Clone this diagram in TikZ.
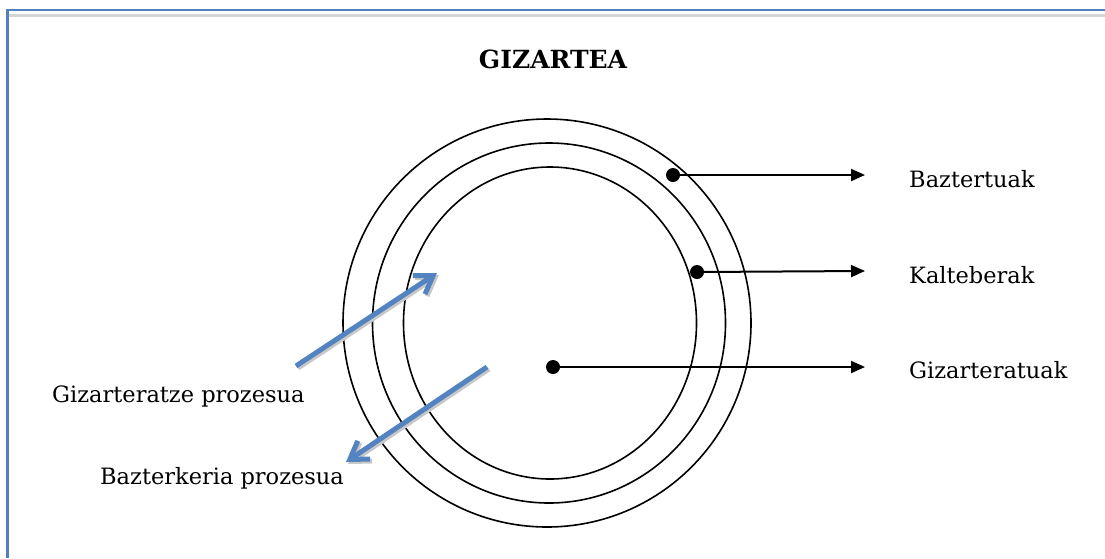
\documentclass[tikz,border=0pt]{standalone}
\usepackage{fontspec}
\setmainfont{DejaVu Serif}
\usetikzlibrary{arrows.meta,shapes.geometric}
\definecolor{frameblue}{HTML}{4F81BD}
\definecolor{rulegrey}{HTML}{D4D4D4}
\definecolor{flowblue}{HTML}{5383C0}
\definecolor{shadowgrey}{HTML}{C8C8C8}

\begin{document}
\begin{tikzpicture}[x=1pt,y=-1pt,font=\fontsize{22.5}{27}\selectfont,
  ring/.style={ellipse,draw,line width=1.6pt,inner sep=0pt},
  dot/.style={circle,fill,inner sep=0pt,minimum size=14pt},
  lbl/.style={anchor=base west,inner sep=0pt},
  conn/.style={-{Triangle[length=14pt,width=12pt]},line width=2pt},
  flow/.style={-{Straight Barb[length=17pt,width=22pt]},flowblue,line width=5pt},
  flowshadow/.style={flow,shadowgrey}]
\useasboundingbox (0,0) rectangle (1105,558);
% page frame
\draw[rulegrey,line width=2.5pt] (9,15.5) -- (1105,15.5);
\draw[frameblue,line width=2.5pt] (7.5,558) -- (7.5,10) -- (1105,10);
\node[font=\fontsize{25}{30}\selectfont\bfseries,anchor=base,inner sep=0pt] (title) at (553,68) {GIZARTEA};
% society rings
\node[ring,minimum width=408pt,minimum height=408pt] (outer) at (547,323) {};
\node[ring,minimum width=353pt,minimum height=360pt] (middle) at (549,323) {};
\node[ring,minimum width=293pt,minimum height=312pt] (inner) at (550,323) {};
\node[dot] (dotout) at (673,175) {};
\node[dot] (dotmid) at (697,272) {};
\node[dot] (dotin) at (553,367) {};
\coordinate (endout) at (865,175);
\coordinate (endmid) at (865,271);
\coordinate (endin) at (865,367);
\draw[conn] (dotout.center) -- (endout);
\draw[conn] (dotmid.center) -- (endmid);
\draw[conn] (dotin.center) -- (endin);
\node[lbl] (baz) at (909,187) {Baztertuak};
\node[lbl] (kal) at (909,283) {Kalteberak};
\node[lbl] (giz) at (909,378) {Gizarteratuak};
% processes
\coordinate (intail) at (296,366);
\coordinate (inhead) at (437,273);
\coordinate (outtail) at (487,367);
\coordinate (outhead) at (346,462);
\draw[flowshadow] ([shift={(2,2)}]intail) -- ([shift={(2,2)}]inhead);
\draw[flowshadow] ([shift={(2,2)}]outtail) -- ([shift={(2,2)}]outhead);
\draw[flow] (intail) -- (inhead);
\draw[flow] (outtail) -- (outhead);
\node[lbl] (inproc) at (52,402) {Gizarteratze prozesua};
\node[lbl] (outproc) at (100,484) {Bazterkeria prozesua};
\end{tikzpicture}
\end{document}
